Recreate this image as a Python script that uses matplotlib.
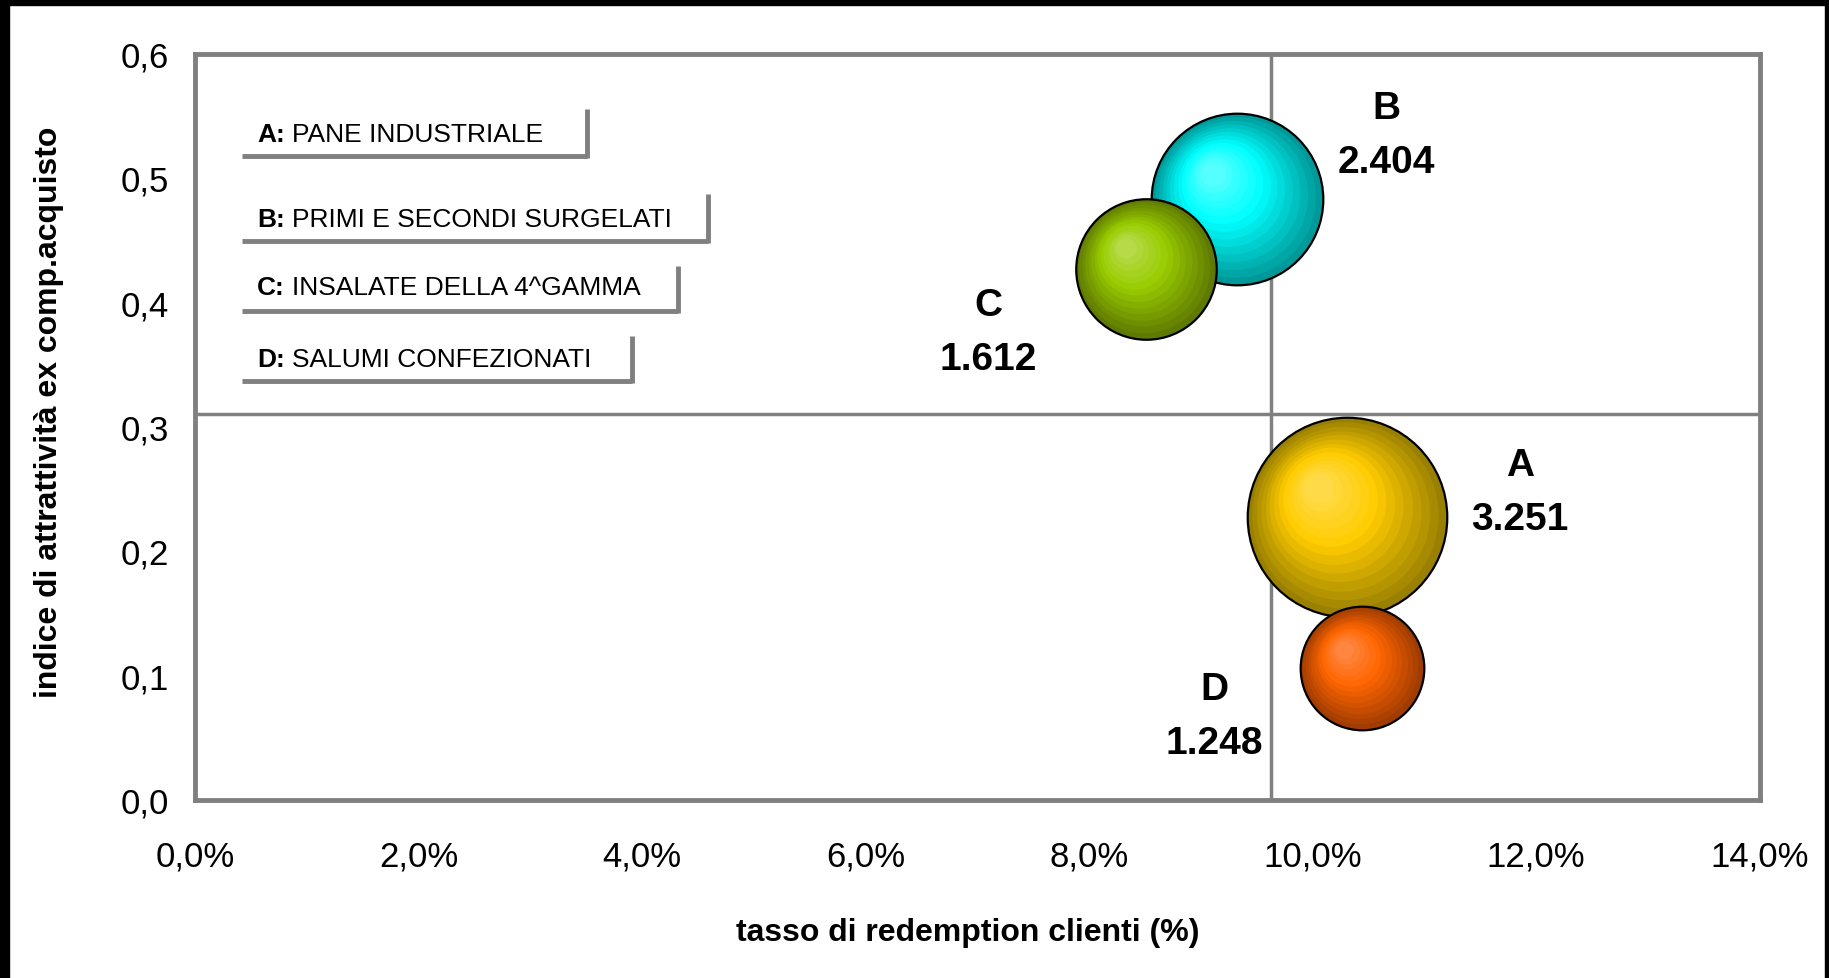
import matplotlib.pyplot as plt
import matplotlib.transforms as mtransforms
from matplotlib.colors import to_rgb
from matplotlib.patches import Rectangle
from matplotlib.lines import Line2D
import numpy as np

plt.rcParams['font.family'] = ['Liberation Sans', 'DejaVu Sans']

# data
letters = ['A', 'B', 'C', 'D']
names = ['PANE INDUSTRIALE', 'PRIMI E SECONDI SURGELATI',
         'INSALATE DELLA 4^GAMMA', 'SALUMI CONFEZIONATI']
redemption = [0.1031, 0.0932, 0.0851, 0.1044]
attrattivita = [0.227, 0.483, 0.427, 0.106]
volumi = [3251, 2404, 1612, 1248]
volumi_txt = ['3.251', '2.404', '1.612', '1.248']
media_x = 0.0963
media_y = 0.31

x_ticks = [0.0, 0.02, 0.04, 0.06, 0.08, 0.10, 0.12, 0.14]
y_ticks = [0.0, 0.1, 0.2, 0.3, 0.4, 0.5, 0.6]

# colours: edge (dark), base, highlight
colori = [('#9A8000', '#FFCC00', '#FFDD55'),
          ('#009999', '#00FFFF', '#66FFFF'),
          ('#5F7A00', '#99CC00', '#BBDD55'),
          ('#A03C00', '#FF6600', '#FF8C4D')]
# label offsets in pixels (dx, dy) for value text relative to bubble
lab_off = [(173, -2), (150, 37), (-158, -90), (-147, -75)]

W, H = 1829, 979
fig = plt.figure(figsize=(W / 100, H / 100), dpi=100)
ax = fig.add_axes([195 / W, 1 - 800.7 / H, (1759.5 - 195) / W, (800.7 - 54.5) / H])

grey = '#808080'
ax.set_xlim(0, 0.14)
ax.set_ylim(0, 0.6)
for s in ax.spines.values():
    s.set_color(grey)
    s.set_linewidth(3.5)
ax.axvline(media_x, color=grey, lw=2.5, zorder=1)
ax.axhline(media_y, color=grey, lw=2.5, zorder=1)

ax.set_xticks(x_ticks)
ax.set_yticks(y_ticks)
ax.set_xticklabels([('%.1f%%' % (v * 100)).replace('.', ',') for v in x_ticks])
ax.set_yticklabels([('%.1f' % v).replace('.', ',') for v in y_ticks])
ax.tick_params(length=0, labelsize=25)
ax.tick_params(axis='y', pad=19)
ax.tick_params(axis='x', pad=29)


def mix(c1, c2, t):
    a = np.array(to_rgb(c1))
    b = np.array(to_rgb(c2))
    return tuple(a + (b - a) * t)


k = 6.35  # area scale (points^2 per unit)
n = 14
for i in range(len(letters)):
    s0 = volumi[i] * k
    R = np.sqrt(s0) / 2  # radius in points
    dark, base, light = colori[i]
    ax.scatter([redemption[i]], [attrattivita[i]], s=s0, color=dark,
               edgecolors='black', linewidths=1.6, zorder=3 + i)
    for j in range(1, n):
        t = j / n
        f = 1 - t * 0.92
        if t < 0.55:
            c = mix(dark, base, t / 0.55)
        else:
            c = mix(base, light, (t - 0.55) / 0.45)
        tr = mtransforms.offset_copy(ax.transData, fig=fig,
                                     x=-0.3 * R * t, y=0.32 * R * t, units='points')
        ax.scatter([redemption[i]], [attrattivita[i]], s=s0 * f * f, color=c,
                   linewidths=0, transform=tr, zorder=3 + i)
    dx, dy = lab_off[i]
    ax.annotate(volumi_txt[i], (redemption[i], attrattivita[i]),
                xytext=(dx * 0.72, dy * 0.72), textcoords='offset points',
                ha='center', va='center', fontsize=28, fontweight='bold', zorder=10)
    ax.annotate(letters[i], (redemption[i], attrattivita[i]),
                xytext=(dx * 0.72, (dy + 54) * 0.72), textcoords='offset points',
                ha='center', va='center', fontsize=28, fontweight='bold', zorder=10)


def fx(x):
    return x / W


def fy(y):
    return 1 - y / H


# category boxes (text with shadow lines)
base_y = [142, 227, 295, 367]
bottom_y = [157, 242, 312, 382]
right_x = [587, 708, 678, 632]
top_y = [110, 195, 267, 337]
for i in range(4):
    fig.text(fx(257), fy(base_y[i]), letters[i] + ':', fontsize=19,
             fontweight='bold', va='baseline')
    fig.text(fx(292), fy(base_y[i]), names[i], fontsize=19, va='baseline')
    fig.add_artist(Line2D([fx(242), fx(right_x[i])], [fy(bottom_y[i]), fy(bottom_y[i])],
                          color=grey, lw=3.5, solid_capstyle='butt'))
    fig.add_artist(Line2D([fx(right_x[i]), fx(right_x[i])], [fy(top_y[i]), fy(bottom_y[i] + 2)],
                          color=grey, lw=3.5, solid_capstyle='butt'))

fig.text(fx(968), fy(933), 'tasso di redemption clienti (%)', fontsize=23,
         fontweight='bold', ha='center', va='center')
fig.text(fx(49), fy(412), 'indice di attrattività ex comp.acquisto', fontsize=23,
         fontweight='bold', ha='center', va='center', rotation=90)

# black frame
fig.add_artist(Rectangle((0, fy(6)), 1, 6 / H, color='black', transform=fig.transFigure))
fig.add_artist(Rectangle((0, 0), 9 / W, 1, color='black', transform=fig.transFigure))
fig.add_artist(Rectangle((1 - 4 / W, 0), 4 / W, 1, color='black', transform=fig.transFigure))

fig.savefig('out.png', dpi=100)
